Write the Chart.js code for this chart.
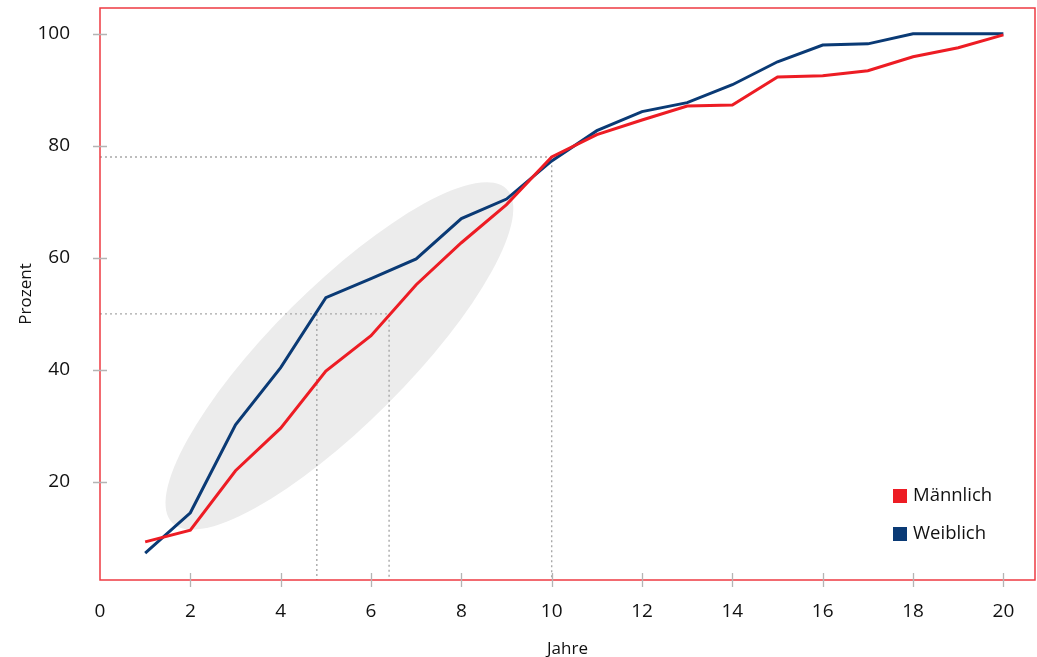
<!DOCTYPE html>
<html>
<head>
<meta charset="utf-8">
<script src="https://cdn.jsdelivr.net/npm/chart.js@4.4.1/dist/chart.umd.min.js"></script>
<style>
  html, body { margin: 0; padding: 0; background: #fff; }
  #wrap { width: 1037px; height: 657px; }
</style>
</head>
<body>
<div id="wrap"><canvas id="chart" width="1037" height="657"></canvas></div>
<script>
// -------- Daten --------
const years     = [1,2,3,4,5,6,7,8,9,10,11,12,13,14,15,16,17,18,19,20];
const maennlich = [9.3,11.4,22.0,29.6,39.8,46.1,55.2,62.7,69.5,78.0,82.0,84.6,87.1,87.3,92.3,92.5,93.4,95.9,97.5,99.8];
const weiblich  = [7.3,14.5,30.2,40.4,52.9,56.3,59.8,67.0,70.5,77.3,82.7,86.1,87.7,90.9,95.0,98.0,98.2,100,100,100];

const xTicks = [0,2,4,6,8,10,12,14,16,18,20];
const yTicks = [20,40,60,80,100];
const xMin = 0, xMax = 20.7, yMin = 2.5, yMax = 104.6;

// Hilfslinien (gepunktet): Niveau und Jahre
const ref78Years  = [0, 10, 10];
const ref78Values = [78, 78, yMin];
const ref50Years  = [0, 6.4, 6.4];
const ref50Values = [50, 50, yMin];
const ref48Years  = [4.8, 4.8];
const ref48Values = [50, yMin];

// Graue Ellipse: Mittelpunkt und Spitze der Hauptachse (Datenwerte)
const ellipseCenter = [5.3, 42.5];
const ellipseTip    = [9.0, 72.3];

const RED  = "#ed1c24";
const BLUE = "#0a3a75";
const FONT = "'Open Sans', 'DejaVu Sans', sans-serif";

const pts = (xs, ys) => xs.map((x, i) => ({ x, y: ys[i] }));

const refStyle = {
  borderColor: "#a8a8a8", borderWidth: 1.4, borderDash: [2, 3],
  pointRadius: 0, fill: false, tension: 0
};

// -------- Plugins --------
const ellipsePlugin = {
  id: "ellipse",
  beforeDatasetsDraw(chart) {
    const { ctx, scales: { x, y } } = chart;
    const cx = x.getPixelForValue(ellipseCenter[0]), cy = y.getPixelForValue(ellipseCenter[1]);
    const tx = x.getPixelForValue(ellipseTip[0]),    ty = y.getPixelForValue(ellipseTip[1]);
    const rx = Math.hypot(tx - cx, ty - cy);
    const ang = Math.atan2(ty - cy, tx - cx);
    ctx.save();
    ctx.fillStyle = "#ececec";
    ctx.beginPath();
    ctx.ellipse(cx, cy, rx, 68, ang, 0, Math.PI * 2);
    ctx.fill();
    ctx.restore();
  }
};

const frameAndLegend = {
  id: "frameAndLegend",
  afterDraw(chart) {
    const { ctx, chartArea: a, scales: { x, y } } = chart;
    ctx.save();
    // Rahmen
    ctx.strokeStyle = "#ee3a42";
    ctx.lineWidth = 1.5;
    ctx.strokeRect(a.left, a.top, a.right - a.left, a.bottom - a.top);
    // Ticks kreuzen die Achse
    ctx.strokeStyle = "#b4b4b4";
    ctx.lineWidth = 1.3;
    ctx.beginPath();
    xTicks.forEach(v => {
      if (v === 0) return;
      const px = Math.round(x.getPixelForValue(v)) + 0.5;
      ctx.moveTo(px, a.bottom - 7); ctx.lineTo(px, a.bottom + 7);
    });
    yTicks.forEach(v => {
      const py = Math.round(y.getPixelForValue(v)) + 0.5;
      ctx.moveTo(a.left - 7, py); ctx.lineTo(a.left + 7, py);
    });
    ctx.stroke();
    // Legende
    const items = chart.data.datasets.filter(d => d.inLegend);
    ctx.font = "18.5px " + FONT;
    ctx.textBaseline = "middle";
    items.forEach((d, i) => {
      const yy = a.bottom - 84 + i * 38;
      ctx.fillStyle = d.borderColor;
      ctx.fillRect(a.right - 142, yy - 7, 14, 14);
      ctx.fillStyle = "#111";
      ctx.fillText(d.label, a.right - 122, yy);
    });
    ctx.restore();
  }
};

new Chart(document.getElementById("chart").getContext("2d"), {
  type: "line",
  data: {
    datasets: [
      { label: "Männlich", data: pts(years, maennlich), borderColor: RED,  borderWidth: 3, pointRadius: 0, tension: 0, inLegend: true },
      { label: "Weiblich", data: pts(years, weiblich),  borderColor: BLUE, borderWidth: 3, pointRadius: 0, tension: 0, inLegend: true },
      { label: "ref78", data: pts(ref78Years, ref78Values), ...refStyle },
      { label: "ref50", data: pts(ref50Years, ref50Values), ...refStyle },
      { label: "ref48", data: pts(ref48Years, ref48Values), ...refStyle }
    ]
  },
  options: {
    responsive: false,
    animation: false,
    layout: { padding: { top: 8, right: 2, left: 0, bottom: 0 } },
    plugins: { legend: { display: false }, tooltip: { enabled: false } },
    scales: {
      x: {
        type: "linear", min: xMin, max: xMax,
        grid: { display: false },
        border: { display: false },
        afterBuildTicks: s => { s.ticks = xTicks.map(v => ({ value: v })); },
        afterFit: s => { s.height = 77; s.paddingLeft = 0; s.paddingRight = 0; },
        ticks: { padding: 12, color: "#111", font: { size: 19, family: FONT }, maxRotation: 0 },
        title: { display: true, text: "Jahre", color: "#111", font: { size: 17, family: FONT }, padding: { top: 0, bottom: -2 } }
      },
      y: {
        type: "linear", min: yMin, max: yMax,
        grid: { display: false },
        border: { display: false },
        afterBuildTicks: s => { s.ticks = yTicks.map(v => ({ value: v })); },
        afterFit: s => { s.width = 100; s.paddingTop = 0; s.paddingBottom = 0; },
        ticks: { padding: 22, color: "#111", font: { size: 19, family: FONT } },
        title: { display: true, text: "Prozent", color: "#111", font: { size: 17, family: FONT }, padding: { top: 16, bottom: 0 } }
      }
    }
  },
  plugins: [ellipsePlugin, frameAndLegend]
});
</script>
</body>
</html>
